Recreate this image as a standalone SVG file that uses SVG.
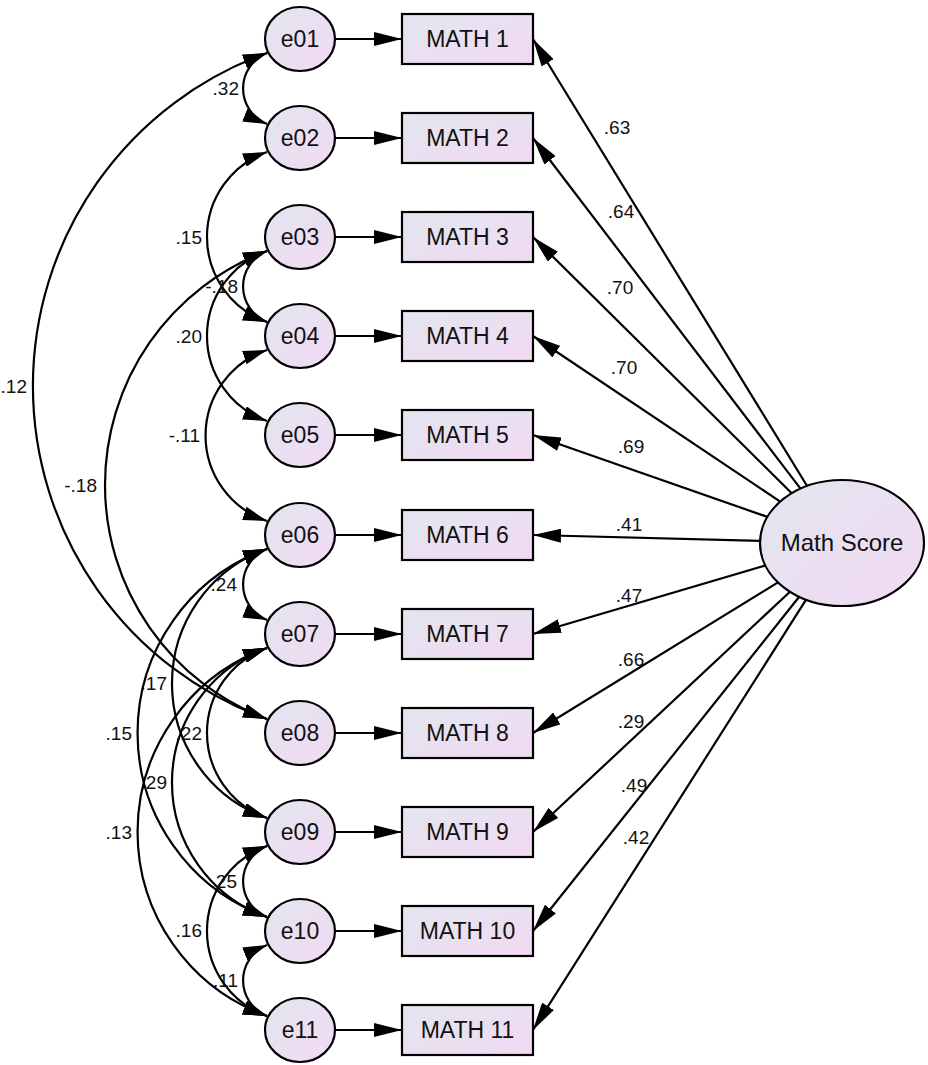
<svg xmlns="http://www.w3.org/2000/svg" width="928" height="1065" viewBox="0 0 928 1065">
<style>
.nd{stroke:#000;stroke-width:2.2}
.el{fill:url(#g)}
.rc{fill:url(#g)}
.t{font-family:"Liberation Sans",Arial,sans-serif;font-size:23px;fill:#111;text-anchor:middle}
.lb{font-family:"Liberation Sans",Arial,sans-serif;font-size:19px;fill:#111}
.cv{fill:none;stroke:#000;stroke-width:2.2;marker-start:url(#ha);marker-end:url(#ha)}
.ln{fill:none;stroke:#000;stroke-width:2.2;marker-end:url(#hb)}
</style>
<defs>
<linearGradient id="g" x1="0" y1="0" x2="1" y2="1">
<stop offset="0" stop-color="#e2e6ef"/>
<stop offset="1" stop-color="#f2d9f3"/>
</linearGradient>
<marker id="ha" markerUnits="userSpaceOnUse" markerWidth="24" markerHeight="14" refX="24" refY="7" orient="auto-start-reverse">
<path d="M0,0 L24,7 L0,14 z" fill="#000"/>
</marker>
<marker id="hb" markerUnits="userSpaceOnUse" markerWidth="28" markerHeight="14" refX="28" refY="7" orient="auto">
<path d="M0,0 L28,7 L0,14 z" fill="#000"/>
</marker>
</defs>
<rect width="928" height="1065" fill="#fff"/>

<g id="connectors">
<line class="ln" x1="335" y1="39" x2="402" y2="39"/>
<line class="ln" x1="335" y1="138" x2="402" y2="138"/>
<line class="ln" x1="335" y1="237" x2="402" y2="237"/>
<line class="ln" x1="335" y1="336" x2="402" y2="336"/>
<line class="ln" x1="335" y1="435" x2="402" y2="435"/>
<line class="ln" x1="335" y1="535" x2="402" y2="535"/>
<line class="ln" x1="335" y1="634" x2="402" y2="634"/>
<line class="ln" x1="335" y1="733" x2="402" y2="733"/>
<line class="ln" x1="335" y1="832" x2="402" y2="832"/>
<line class="ln" x1="335" y1="931" x2="402" y2="931"/>
<line class="ln" x1="335" y1="1030" x2="402" y2="1030"/>
<line class="ln" x1="807.1" y1="486" x2="533" y2="39"/>
<line class="ln" x1="800.5" y1="488.7" x2="533" y2="138"/>
<line class="ln" x1="791.7" y1="493.2" x2="533" y2="237"/>
<line class="ln" x1="780.2" y1="501.6" x2="533" y2="336"/>
<line class="ln" x1="767.4" y1="516.9" x2="533" y2="435"/>
<line class="ln" x1="760.1" y1="540.9" x2="533" y2="535"/>
<line class="ln" x1="765.4" y1="565.5" x2="533" y2="634"/>
<line class="ln" x1="778" y1="582.4" x2="533" y2="733"/>
<line class="ln" x1="790" y1="591.7" x2="533" y2="832"/>
<line class="ln" x1="799.2" y1="596.7" x2="533" y2="931"/>
<line class="ln" x1="806.1" y1="599.6" x2="533" y2="1030"/>
<path class="cv" d="M267,53 A38.3,38.3 0 0 0 267,124"/>
<path class="cv" d="M267,53 A353.9,353.9 0 0 0 267,719"/>
<path class="cv" d="M267,152 A90.2,90.2 0 0 0 267,322"/>
<path class="cv" d="M267,251 A38.3,38.3 0 0 0 267,322"/>
<path class="cv" d="M267,251 A90.2,90.2 0 0 0 267,421"/>
<path class="cv" d="M267,251 A250,250 0 0 0 267,719"/>
<path class="cv" d="M267,350 A90.2,90.2 0 0 0 267,521"/>
<path class="cv" d="M267,549 A38.3,38.3 0 0 0 267,620"/>
<path class="cv" d="M267,549 A142.7,142.7 0 0 0 267,818"/>
<path class="cv" d="M267,549 A195.5,195.5 0 0 0 267,917"/>
<path class="cv" d="M267,648 A90.2,90.2 0 0 0 267,818"/>
<path class="cv" d="M267,648 A142.7,142.7 0 0 0 267,917"/>
<path class="cv" d="M267,648 A195.5,195.5 0 0 0 267,1016"/>
<path class="cv" d="M267,846 A38.3,38.3 0 0 0 267,917"/>
<path class="cv" d="M267,846 A90.2,90.2 0 0 0 267,1016"/>
<path class="cv" d="M267,945 A38.3,38.3 0 0 0 267,1016"/>
</g>

<g id="labels">
<text class="lb" text-anchor="end" x="239" y="95">.32</text>
<text class="lb" text-anchor="end" x="27" y="393">.12</text>
<text class="lb" text-anchor="end" x="202" y="243.5">.15</text>
<text class="lb" text-anchor="end" x="238" y="293">-.18</text>
<text class="lb" text-anchor="end" x="202" y="342.5">.20</text>
<text class="lb" text-anchor="end" x="97" y="491.5">-.18</text>
<text class="lb" text-anchor="end" x="200" y="442">-.11</text>
<text class="lb" text-anchor="end" x="237" y="591">.24</text>
<text class="lb" text-anchor="end" x="167" y="690">.17</text>
<text class="lb" text-anchor="end" x="132" y="739.5">.15</text>
<text class="lb" text-anchor="end" x="202" y="740">.22</text>
<text class="lb" text-anchor="end" x="167" y="789">.29</text>
<text class="lb" text-anchor="end" x="132" y="838.5">.13</text>
<text class="lb" text-anchor="end" x="237" y="888">.25</text>
<text class="lb" text-anchor="end" x="202" y="937">.16</text>
<text class="lb" text-anchor="end" x="238" y="987">.11</text>
<text class="lb" text-anchor="middle" x="617" y="133.5">.63</text>
<text class="lb" text-anchor="middle" x="621" y="217.5">.64</text>
<text class="lb" text-anchor="middle" x="620" y="293.5">.70</text>
<text class="lb" text-anchor="middle" x="624" y="373.5">.70</text>
<text class="lb" text-anchor="middle" x="631" y="452.5">.69</text>
<text class="lb" text-anchor="middle" x="629" y="530.5">.41</text>
<text class="lb" text-anchor="middle" x="629" y="601.5">.47</text>
<text class="lb" text-anchor="middle" x="631" y="665.5">.66</text>
<text class="lb" text-anchor="middle" x="631" y="727.5">.29</text>
<text class="lb" text-anchor="middle" x="634" y="791.5">.49</text>
<text class="lb" text-anchor="middle" x="636" y="843.5">.42</text>
</g>

<g id="e01"><ellipse class="nd el" cx="300" cy="39" rx="35" ry="32"/><text class="t" x="300" y="47">e01</text></g>
<g id="e02"><ellipse class="nd el" cx="300" cy="138" rx="35" ry="32"/><text class="t" x="300" y="146">e02</text></g>
<g id="e03"><ellipse class="nd el" cx="300" cy="237" rx="35" ry="32"/><text class="t" x="300" y="245">e03</text></g>
<g id="e04"><ellipse class="nd el" cx="300" cy="336" rx="35" ry="32"/><text class="t" x="300" y="344">e04</text></g>
<g id="e05"><ellipse class="nd el" cx="300" cy="435" rx="35" ry="32"/><text class="t" x="300" y="443">e05</text></g>
<g id="e06"><ellipse class="nd el" cx="300" cy="535" rx="35" ry="32"/><text class="t" x="300" y="543">e06</text></g>
<g id="e07"><ellipse class="nd el" cx="300" cy="634" rx="35" ry="32"/><text class="t" x="300" y="642">e07</text></g>
<g id="e08"><ellipse class="nd el" cx="300" cy="733" rx="35" ry="32"/><text class="t" x="300" y="741">e08</text></g>
<g id="e09"><ellipse class="nd el" cx="300" cy="832" rx="35" ry="32"/><text class="t" x="300" y="840">e09</text></g>
<g id="e10"><ellipse class="nd el" cx="300" cy="931" rx="35" ry="32"/><text class="t" x="300" y="939">e10</text></g>
<g id="e11"><ellipse class="nd el" cx="300" cy="1030" rx="35" ry="32"/><text class="t" x="300" y="1038">e11</text></g>

<g id="math1"><rect class="nd rc" x="402" y="14" width="131" height="50"/><text class="t" x="467.5" y="47">MATH 1</text></g>
<g id="math2"><rect class="nd rc" x="402" y="113" width="131" height="50"/><text class="t" x="467.5" y="146">MATH 2</text></g>
<g id="math3"><rect class="nd rc" x="402" y="212" width="131" height="50"/><text class="t" x="467.5" y="245">MATH 3</text></g>
<g id="math4"><rect class="nd rc" x="402" y="311" width="131" height="50"/><text class="t" x="467.5" y="344">MATH 4</text></g>
<g id="math5"><rect class="nd rc" x="402" y="410" width="131" height="50"/><text class="t" x="467.5" y="443">MATH 5</text></g>
<g id="math6"><rect class="nd rc" x="402" y="510" width="131" height="50"/><text class="t" x="467.5" y="543">MATH 6</text></g>
<g id="math7"><rect class="nd rc" x="402" y="609" width="131" height="50"/><text class="t" x="467.5" y="642">MATH 7</text></g>
<g id="math8"><rect class="nd rc" x="402" y="708" width="131" height="50"/><text class="t" x="467.5" y="741">MATH 8</text></g>
<g id="math9"><rect class="nd rc" x="402" y="807" width="131" height="50"/><text class="t" x="467.5" y="840">MATH 9</text></g>
<g id="math10"><rect class="nd rc" x="402" y="906" width="131" height="50"/><text class="t" x="467.5" y="939">MATH 10</text></g>
<g id="math11"><rect class="nd rc" x="402" y="1005" width="131" height="50"/><text class="t" x="467.5" y="1038">MATH 11</text></g>

<g id="mathscore"><ellipse class="nd el" cx="842" cy="543" rx="82" ry="63"/><text class="t" x="842" y="551" style="font-size:24px">Math Score</text></g>
</svg>
